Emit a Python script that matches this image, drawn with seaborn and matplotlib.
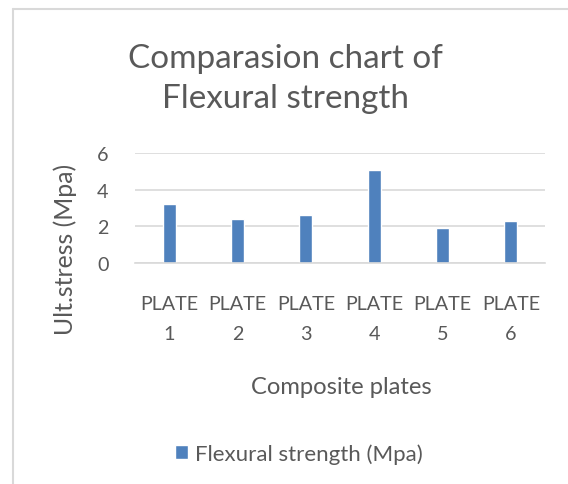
import matplotlib
matplotlib.use("Agg")
import matplotlib.pyplot as plt
from matplotlib.lines import Line2D
import seaborn as sns
import pandas as pd

plates = ["PLATE 1", "PLATE 2", "PLATE 3", "PLATE 4", "PLATE 5", "PLATE 6"]
flexural_strength = [3.2, 2.4, 2.6, 5.1, 1.9, 2.3]
y_ticks = [0, 2, 4, 6]
series_name = "Flexural strength (Mpa)"
title_lines = ["Comparasion chart of", "Flexural strength"]
x_title = "Composite plates"
y_title = "Ult.stress (Mpa)"

df = pd.DataFrame({"plate": plates, "strength": flexural_strength})

sns.set_theme(style="white")
FONT = ["Lato", "DejaVu Sans"]
plt.rcParams["font.family"] = FONT
text_color = "#595959"
bar_color = "#4F81BD"
grid_color = "#D9D9D9"

W, H = 568, 485
fig = plt.figure(figsize=(W / 100, H / 100), dpi=100)
renderer = fig.canvas.get_renderer()


def size_for_width(text, width_px):
    """Font size (pt) at which `text` spans `width_px` pixels."""
    probe = fig.text(0, 0, text, fontsize=10)
    w = probe.get_window_extent(renderer).width
    probe.remove()
    return 10 * width_px / w


def fx(px):
    return px / W


def fy(px):
    return 1 - px / H


title_size = size_for_width(title_lines[0], 315)
tick_size = size_for_width("PLATE", 58)
xlab_size = size_for_width(x_title, 182)
ylab_size = size_for_width(y_title, 172)
legend_size = size_for_width(series_name, 227)

ax = fig.add_axes([fx(135), fy(264), fx(545) - fx(135), (264 - 154) / H])

sns.barplot(data=df, x="plate", y="strength", color=bar_color, width=0.19,
            saturation=1, label=series_name, ax=ax)

ax.set_ylim(0, 6)
ax.set_xlim(-0.5, 5.5)
ax.set_yticks(y_ticks)
ax.set_yticklabels([str(t) for t in y_ticks], fontsize=tick_size, color=text_color)
ax.set_xticklabels([p.replace(" ", "\n") for p in plates], fontsize=tick_size,
                   color=text_color, linespacing=1.9)
ax.tick_params(axis="y", length=0, pad=19)
ax.tick_params(axis="x", length=0, pad=23)

ax.yaxis.grid(True, color=grid_color, linewidth=1.2)
ax.set_axisbelow(True)
for side in ["top", "right", "left"]:
    ax.spines[side].set_visible(False)
ax.spines["bottom"].set_color(grid_color)
ax.spines["bottom"].set_linewidth(1.2)

ax.set_xlabel(x_title, fontsize=xlab_size, color=text_color)
ax.xaxis.set_label_coords(fx(341), fy(387), transform=fig.transFigure)
ax.xaxis.label.set_va("center")
ax.set_ylabel(y_title, fontsize=ylab_size, color=text_color)
ax.yaxis.set_label_coords(fx(65), fy(249), transform=fig.transFigure)
ax.yaxis.label.set_va("center")

fig.text(fx(285), fy(68), title_lines[0], ha="center", va="baseline",
         fontsize=title_size, color=text_color)
fig.text(fx(286), fy(108), title_lines[1], ha="center", va="baseline",
         fontsize=title_size, color=text_color)

em = legend_size * 100 / 72
leg = ax.legend(loc="center left", bbox_to_anchor=(fx(175), fy(455)),
                bbox_transform=fig.transFigure, frameon=False, fontsize=legend_size,
                handlelength=13 / em, handleheight=13 / em, handletextpad=7 / em,
                borderpad=0, borderaxespad=0)
for t in leg.get_texts():
    t.set_color(text_color)

# chart area border
fig.add_artist(Line2D([fx(13), fx(13)], [0, fy(10)], color=grid_color,
                      linewidth=1.5, transform=fig.transFigure))
fig.add_artist(Line2D([fx(13), 1], [fy(10), fy(10)], color=grid_color,
                      linewidth=1.5, transform=fig.transFigure))

fig.savefig("out.png", dpi=100)
